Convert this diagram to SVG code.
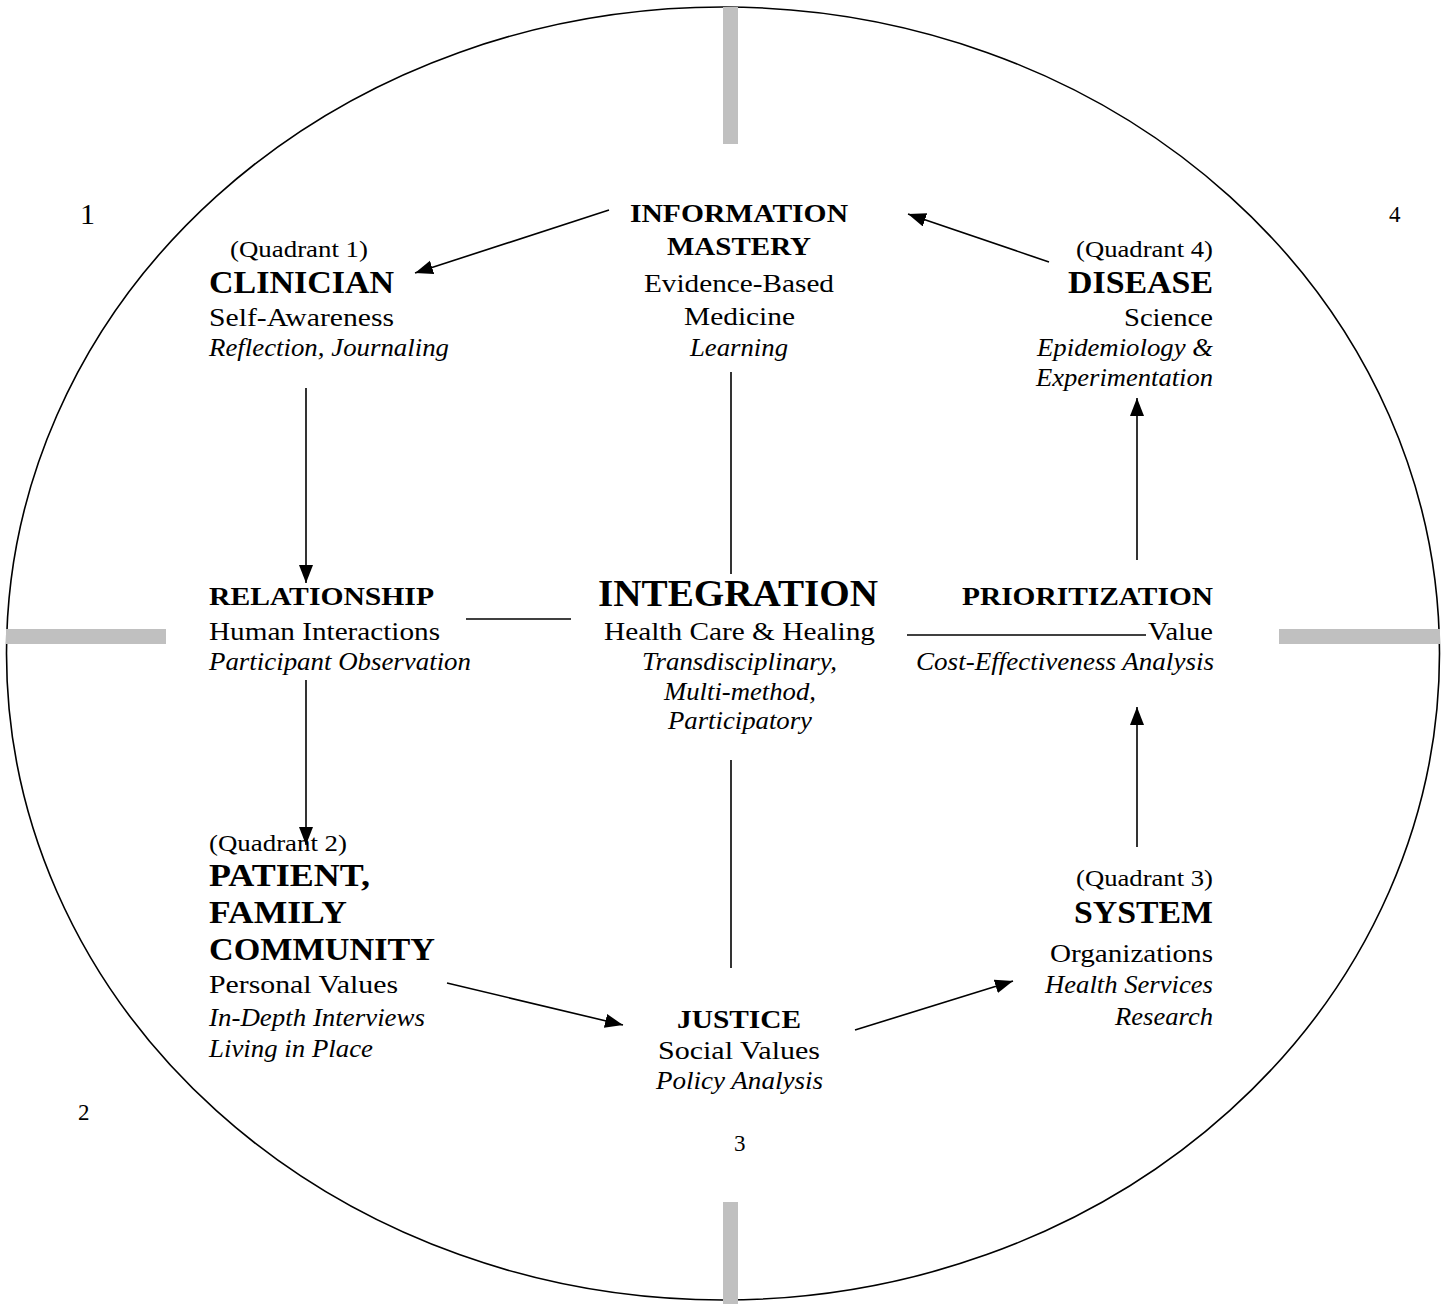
<svg xmlns="http://www.w3.org/2000/svg" width="1446" height="1304" viewBox="0 0 1446 1304">
<style>
text{font-family:"Liberation Serif","Times New Roman",serif;fill:#000}
.r{font-size:26px}
.i{font-size:25px;font-style:italic}
.q{font-size:24px}
.bb{font-size:31px;font-weight:bold}
.bs{font-size:25px;font-weight:bold}
.bi{font-size:37px;font-weight:bold}
.n{font-size:23px}
.ln{stroke:#000;stroke-width:1.6;fill:none}
.bar{fill:#C0C0C0}
</style>
<defs>
<marker id="ah" markerUnits="userSpaceOnUse" markerWidth="20" markerHeight="16" refX="18" refY="7" orient="auto">
<path d="M0,0 L18,7 L0,14 Z" fill="#000"/>
</marker>
</defs>
<rect width="1446" height="1304" fill="#fff"/>
<g id="frame">
<ellipse cx="723" cy="653.5" rx="716.5" ry="646.5" fill="none" stroke="#000" stroke-width="1.6"/>
<rect class="bar" x="723" y="7" width="15" height="137"/>
<rect class="bar" x="723" y="1202" width="15" height="102"/>
<rect class="bar" x="6" y="629" width="160" height="15"/>
<rect class="bar" x="1279" y="629" width="161" height="15"/>
</g>
<g id="numbers">
<text x="80" y="224" style="font-size:30px">1</text>
<text class="n" x="1389" y="222">4</text>
<text class="n" x="78" y="1120">2</text>
<text class="n" x="734" y="1151">3</text>
</g>
<g id="connectors">
<line class="ln" x1="609" y1="210" x2="415" y2="273" marker-end="url(#ah)"/>
<line class="ln" x1="1049" y1="262" x2="908" y2="214" marker-end="url(#ah)"/>
<line class="ln" x1="306" y1="388" x2="306" y2="583" marker-end="url(#ah)"/>
<line class="ln" x1="306" y1="680" x2="306" y2="845" marker-end="url(#ah)"/>
<line class="ln" x1="447" y1="983" x2="623" y2="1025" marker-end="url(#ah)"/>
<line class="ln" x1="855" y1="1030" x2="1013" y2="981" marker-end="url(#ah)"/>
<line class="ln" x1="1137" y1="847" x2="1137" y2="707" marker-end="url(#ah)"/>
<line class="ln" x1="1137" y1="560" x2="1137" y2="398" marker-end="url(#ah)"/>
<line class="ln" x1="731" y1="372" x2="731" y2="574"/>
<line class="ln" x1="731" y1="760" x2="731" y2="968"/>
<line class="ln" x1="466" y1="619" x2="571" y2="619"/>
<line class="ln" x1="907" y1="635" x2="1146" y2="635"/>
</g>
<g id="clinician">
<text class="q" x="230" y="257" textLength="138" lengthAdjust="spacingAndGlyphs">(Quadrant 1)</text>
<text class="bb" x="209" y="293" textLength="185" lengthAdjust="spacingAndGlyphs">CLINICIAN</text>
<text class="r" x="209" y="326" textLength="185" lengthAdjust="spacingAndGlyphs">Self-Awareness</text>
<text class="i" x="209" y="356" textLength="240" lengthAdjust="spacingAndGlyphs">Reflection, Journaling</text>
</g>
<g id="information-mastery">
<text class="bs" x="630" y="222" textLength="218" lengthAdjust="spacingAndGlyphs">INFORMATION</text>
<text class="bs" x="667" y="255" textLength="144" lengthAdjust="spacingAndGlyphs">MASTERY</text>
<text class="r" x="644" y="292" textLength="190" lengthAdjust="spacingAndGlyphs">Evidence-Based</text>
<text class="r" x="684" y="325" textLength="111" lengthAdjust="spacingAndGlyphs">Medicine</text>
<text class="i" x="690" y="356" textLength="98" lengthAdjust="spacingAndGlyphs">Learning</text>
</g>
<g id="disease">
<text class="q" x="1076" y="257" textLength="137" lengthAdjust="spacingAndGlyphs">(Quadrant 4)</text>
<text class="bb" x="1068" y="293" textLength="145" lengthAdjust="spacingAndGlyphs">DISEASE</text>
<text class="r" x="1124" y="326" textLength="89" lengthAdjust="spacingAndGlyphs">Science</text>
<text class="i" x="1037" y="356" textLength="176" lengthAdjust="spacingAndGlyphs">Epidemiology &amp;</text>
<text class="i" x="1036" y="386" textLength="177" lengthAdjust="spacingAndGlyphs">Experimentation</text>
</g>
<g id="relationship">
<text class="bs" x="209" y="605" textLength="225" lengthAdjust="spacingAndGlyphs">RELATIONSHIP</text>
<text class="r" x="209" y="640" textLength="231" lengthAdjust="spacingAndGlyphs">Human Interactions</text>
<text class="i" x="209" y="670" textLength="262" lengthAdjust="spacingAndGlyphs">Participant Observation</text>
</g>
<g id="integration">
<text class="bi" x="598" y="606" textLength="280" lengthAdjust="spacingAndGlyphs">INTEGRATION</text>
<text class="r" x="604" y="640" textLength="271" lengthAdjust="spacingAndGlyphs">Health Care &amp; Healing</text>
<text class="i" x="642" y="670" textLength="195" lengthAdjust="spacingAndGlyphs">Transdisciplinary,</text>
<text class="i" x="664" y="700" textLength="152" lengthAdjust="spacingAndGlyphs">Multi-method,</text>
<text class="i" x="668" y="729" textLength="144" lengthAdjust="spacingAndGlyphs">Participatory</text>
</g>
<g id="prioritization">
<text class="bs" x="962" y="605" textLength="251" lengthAdjust="spacingAndGlyphs">PRIORITIZATION</text>
<text class="r" x="1148" y="640" textLength="65" lengthAdjust="spacingAndGlyphs">Value</text>
<text class="i" x="916" y="670" textLength="298" lengthAdjust="spacingAndGlyphs">Cost-Effectiveness Analysis</text>
</g>
<g id="patient-family-community">
<text class="q" x="209" y="851" textLength="138" lengthAdjust="spacingAndGlyphs">(Quadrant 2)</text>
<text class="bb" x="209" y="886" textLength="161" lengthAdjust="spacingAndGlyphs">PATIENT,</text>
<text class="bb" x="209" y="923" textLength="138" lengthAdjust="spacingAndGlyphs">FAMILY</text>
<text class="bb" x="209" y="960" textLength="226" lengthAdjust="spacingAndGlyphs">COMMUNITY</text>
<text class="r" x="209" y="993" textLength="189" lengthAdjust="spacingAndGlyphs">Personal Values</text>
<text class="i" x="209" y="1026" textLength="216" lengthAdjust="spacingAndGlyphs">In-Depth Interviews</text>
<text class="i" x="209" y="1057" textLength="164" lengthAdjust="spacingAndGlyphs">Living in Place</text>
</g>
<g id="justice">
<text class="bs" x="677" y="1028" textLength="124" lengthAdjust="spacingAndGlyphs">JUSTICE</text>
<text class="r" x="658" y="1059" textLength="162" lengthAdjust="spacingAndGlyphs">Social Values</text>
<text class="i" x="656" y="1089" textLength="167" lengthAdjust="spacingAndGlyphs">Policy Analysis</text>
</g>
<g id="system">
<text class="q" x="1076" y="886" textLength="137" lengthAdjust="spacingAndGlyphs">(Quadrant 3)</text>
<text class="bb" x="1074" y="923" textLength="139" lengthAdjust="spacingAndGlyphs">SYSTEM</text>
<text class="r" x="1050" y="962" textLength="163" lengthAdjust="spacingAndGlyphs">Organizations</text>
<text class="i" x="1045" y="993" textLength="168" lengthAdjust="spacingAndGlyphs">Health Services</text>
<text class="i" x="1115" y="1025" textLength="98" lengthAdjust="spacingAndGlyphs">Research</text>
</g>
</svg>
